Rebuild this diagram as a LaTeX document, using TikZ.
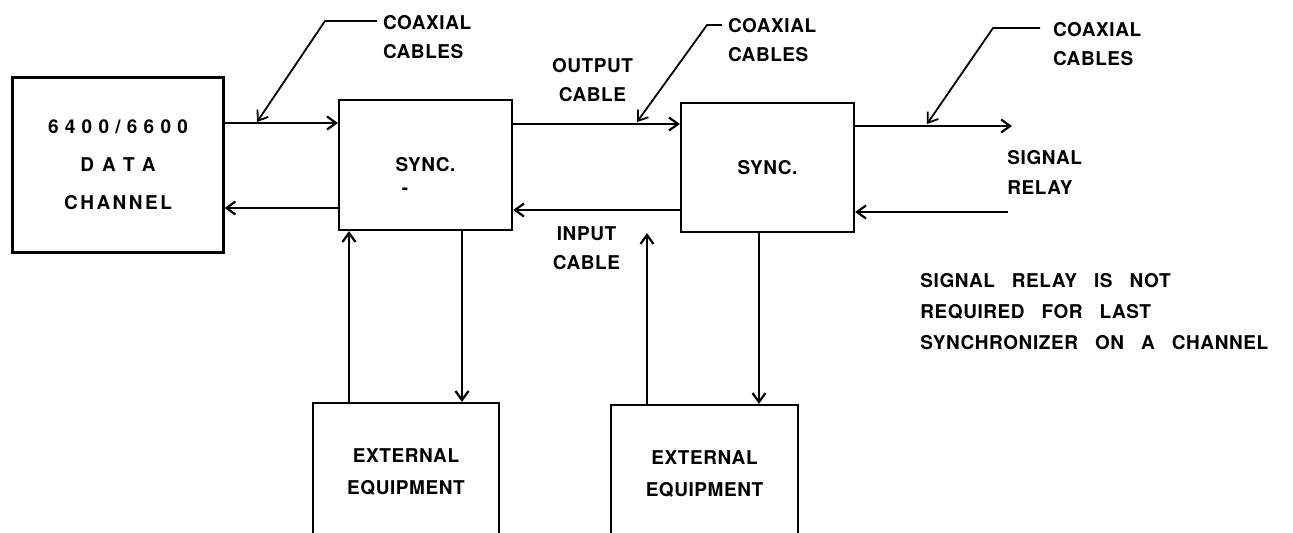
\documentclass[tikz,border=0pt]{standalone}
\usepackage{fontspec}
\newfontfamily\lettering[LetterSpace=3]{TeX Gyre Heros}
\usetikzlibrary{arrows.meta,positioning}
\newcommand\ls[2]{{\addfontfeatures{LetterSpace=#1}#2}}
\newcommand\widespace{\spaceskip=8.5pt plus 1pt\relax}
\tikzset{
  box/.style={draw, line width=1.1pt, inner sep=0pt, align=center,
              font=\lettering\bfseries\fontsize{9.5}{16}\selectfont},
  txt/.style={inner sep=0pt, align=center, font=\lettering\bfseries\fontsize{9.5}{14.5}\selectfont},
  coax/.style={txt, align=left, anchor=north west, outer sep=3pt},
  flow/.style={-{Straight Barb[length=4.5pt,width=6.5pt]}, line width=1.1pt},
  lead/.style={flow, line width=0.9pt},
}

\begin{document}
\begin{tikzpicture}[x=0.5pt, y=-0.5pt]
  \useasboundingbox (0,0) rectangle (1293,533);
  \clip (0,0) rectangle (1293,533);

  % blocks
  \node[box, minimum width=105.5pt, minimum height=87.5pt,
        font=\lettering\bfseries\fontsize{9.5}{19}\selectfont] (dchan) at (118,165)
        {\ls{33}{6400/6600}\\\ls{46}{DATA}\\\ls{13}{CHANNEL}};
  \node[box, minimum width=86.5pt, minimum height=65pt] (sync1) at (425.5,165) {SYNC.};
  \node[txt] (dash) at (405,191) {-};
  \node[box, minimum width=86.5pt, minimum height=64.5pt] (sync2) at (767.5,167.5) {SYNC.};
  \node[box, minimum width=93pt, minimum height=68.5pt] (ext1) at (406,471.5) {EXTERNAL\\EQUIPMENT};
  \node[box, minimum width=93.5pt, minimum height=68.5pt] (ext2) at (704.5,473.5) {EXTERNAL\\EQUIPMENT};

  % cable labels
  \node[coax] (coax1) at (377,9) {COAXIAL\\CABLES};
  \node[coax] (coax2) at (722,12) {COAXIAL\\CABLES};
  \node[coax, outer sep=6.5pt] (coax3) at (1040,9) {COAXIAL\\CABLES};
  \node[txt, align=left, anchor=north west, font=\lettering\bfseries\fontsize{9.5}{15}\selectfont] (relay) at (1007,150) {SIGNAL\\RELAY};
  \node[txt, align=left, anchor=north west,
        font=\lettering\bfseries\fontsize{9.5}{15.5}\selectfont\widespace] (note) at (920,273)
    {SIGNAL RELAY IS NOT\\REQUIRED FOR LAST\\SYNCHRONIZER ON A CHANNEL};

  \coordinate (relout) at (1012,126);
  \coordinate (relin) at (1008,212);
  \coordinate (k1) at (325,21);
  \coordinate (t1) at (257,122);
  \coordinate (k2) at (707,25);
  \coordinate (t2) at (637,122);
  \coordinate (k3) at (993,28);
  \coordinate (t3) at (927,124);

  % cables
  \draw[flow] ([yshift=21pt]dchan.east) -- ([yshift=21pt]dchan.east -| sync1.west);
  \draw[flow] ([yshift=-21.5pt]sync1.west) -- ([yshift=-21.5pt]sync1.west -| dchan.east);
  \draw[flow] ([yshift=20.5pt]sync1.east) -- ([yshift=20.5pt]sync1.east -| sync2.west)
    node[txt, midway, above=10.5pt, xshift=-2pt] (outlbl) {OUTPUT\\CABLE};
  \draw[flow] ([yshift=-21.25pt]sync2.west) -- ([yshift=-21.25pt]sync2.west -| sync1.east)
    node[txt, midway, below=8pt, xshift=-5pt] (inlbl) {INPUT\\CABLE};
  \draw[flow] (sync2.east |- relout) -- (relout);
  \draw[flow] (relin) -- (relin -| sync2.east);

  % external equipment
  \draw[flow] ([xshift=-28.5pt]ext1.north) -- ([xshift=-28.5pt]ext1.north |- sync1.south);
  \draw[flow] ([xshift=28pt]ext1.north |- sync1.south) -- ([xshift=28pt]ext1.north);
  \draw[flow] ([xshift=-28.75pt]ext2.north) -- ([xshift=-28.75pt]ext2.north |- sync2.south);
  \draw[flow] ([xshift=27.25pt]ext2.north |- sync2.south) -- ([xshift=27.25pt]ext2.north);

  % leaders
  \draw[lead] (coax1.west |- k1) -- (k1) -- (t1);
  \draw[lead] (coax2.west |- k2) -- (k2) -- (t2);
  \draw[lead] (coax3.west |- k3) -- (k3) -- (t3);
\end{tikzpicture}
\end{document}
